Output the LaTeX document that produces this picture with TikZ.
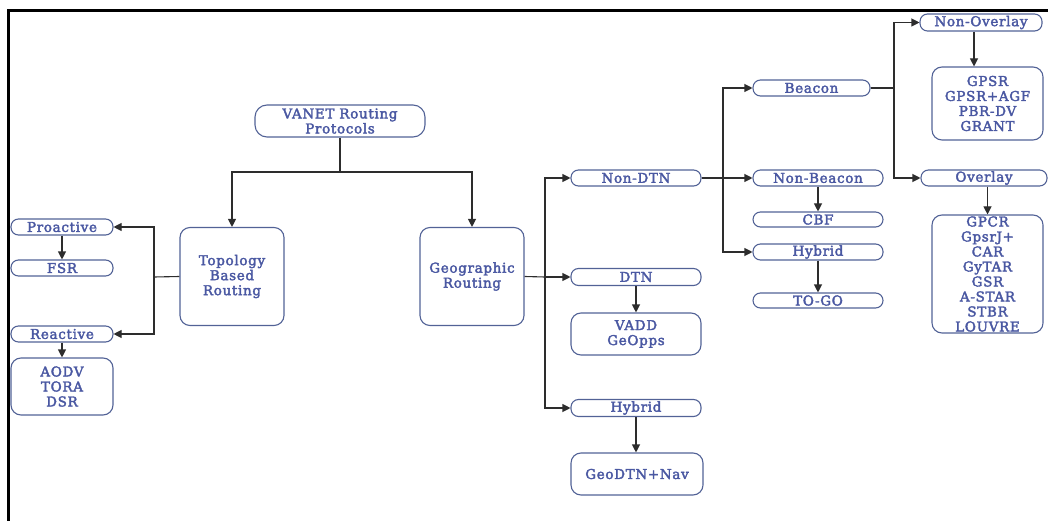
\documentclass[tikz,border=0pt]{standalone}
\usepackage{fontspec}
\setmainfont{DejaVu Serif}[LetterSpace=5,FakeBold=2.5]
\usetikzlibrary{arrows.meta}
\definecolor{txtc}{RGB}{74,88,162}
\definecolor{bordc}{RGB}{82,98,150}
\definecolor{linec}{RGB}{45,45,45}
\begin{document}
\begin{tikzpicture}[x=1pt,y=-1pt,
  every node/.style={inner sep=0pt, text=txtc, align=center, font=\fontsize{13.5}{15}\selectfont},
  pill/.style={draw=bordc, line width=1.1pt, rounded corners=7.5pt},
  rbox/.style={draw=bordc, line width=1.1pt, rounded corners=10pt},
  conn/.style={draw=linec, line width=1.1pt},
  arr/.style={conn, -{Triangle[length=8pt,width=8pt]}}
]
\useasboundingbox (0,0) rectangle (1048,521);
\draw[line width=3pt] (1048,11) -- (8,11) -- (8,521);

\node[rbox, rounded corners=12pt, minimum width=170pt, minimum height=32pt] (vanet) at (340,121) {VANET Routing\\Protocols};
\node[rbox, minimum width=104pt, minimum height=98pt] (topo) at (232,276.5) {Topology\\Based\\Routing};
\node[rbox, minimum width=104pt, minimum height=98pt] (geo) at (472,276.5) {Geographic\\Routing};

\node[pill, minimum width=102pt, minimum height=16pt] (pro) at (62,227) {Proactive};
\node[pill, minimum width=102pt, minimum height=16pt] (fsr) at (62,268) {FSR};
\node[pill, minimum width=102pt, minimum height=16pt] (rea) at (62,334) {Reactive};
\node[rbox, minimum width=102pt, minimum height=57pt] (aodv) at (62,386.5) {AODV\\TORA\\DSR};

\node[pill, minimum width=130pt, minimum height=16pt] (nondtn) at (636,178) {Non-DTN};
\node[pill, minimum width=130pt, minimum height=17pt] (dtn) at (636,277) {DTN};
\node[rbox, minimum width=130pt, minimum height=42pt] (vadd) at (636,334) {VADD\\GeOpps};
\node[pill, minimum width=130pt, minimum height=17pt] (hyb1) at (636,408) {Hybrid};
\node[rbox, minimum width=132pt, minimum height=42pt] (geodtn) at (637,474) {GeoDTN+Nav};

\node[pill, minimum width=117pt, minimum height=16pt] (beacon) at (811.5,88) {Beacon};
\node[pill, minimum width=130pt, minimum height=16pt] (nonbeacon) at (818,178) {Non-Beacon};
\node[pill, minimum width=130pt, minimum height=15pt] (cbf) at (818,219.5) {CBF};
\node[pill, minimum width=130pt, minimum height=16pt] (hyb2) at (818,252) {Hybrid};
\node[pill, minimum width=130pt, minimum height=15pt] (togo) at (818,300.5) {TO-GO};

\node[pill, minimum width=122pt, minimum height=17pt] (nonov) at (981,22.5) {Non-Overlay};
\node[rbox, minimum width=111pt, minimum height=73pt] (gpsr) at (987.5,103.5) {GPSR\\GPSR+AGF\\PBR-DV\\GRANT};
\node[pill, minimum width=126pt, minimum height=16pt] (overlay) at (984,178) {Overlay};
\node[rbox, minimum width=111pt, minimum height=118pt] (gpcr) at (987.5,274) {GPCR\\GpsrJ+\\CAR\\GyTAR\\GSR\\A-STAR\\STBR\\LOUVRE};

\coordinate (j0) at (340,172);
\draw[conn] (vanet.south) -- (j0);
\draw[arr] (j0) -| (topo.north);
\draw[arr] (j0) -| (geo.north);

\coordinate (j1) at (154,277);
\draw[conn] (topo.west) -- (j1);
\draw[arr] (j1) |- (pro.east);
\draw[arr] (j1) |- (rea.east);
\draw[arr] (pro.south) -- (fsr.north);
\draw[arr] (rea.south) -- (aodv.north);

\coordinate (j2) at (545,277);
\draw[conn] (geo.east) -- (j2);
\draw[arr] (j2) |- (nondtn.west);
\draw[arr] (j2) -- (dtn.west);
\draw[arr] (j2) |- (hyb1.west);
\draw[arr] (dtn.south) -- (vadd.north);
\draw[arr] (hyb1.south) -- (hyb1.south |- geodtn.north);

\coordinate (j3) at (723,178);
\draw[arr] (nondtn.east) -- (nonbeacon.west);
\draw[arr] (j3) |- (beacon.west);
\draw[arr] (j3) |- (hyb2.west);
\draw[arr] (nonbeacon.south) -- (cbf.north);
\draw[arr] (hyb2.south) -- (togo.north);

\coordinate (j4) at (894,88);
\draw[conn] (beacon.east) -- (j4);
\draw[arr] (j4) |- (nonov.west);
\draw[arr] (j4) |- (overlay.west);
\draw[arr] ([xshift=-7pt]nonov.south) -- ([xshift=-7pt]nonov.south |- gpsr.north);
\draw[arr] (gpcr.north |- overlay.south) -- (gpcr.north);
\end{tikzpicture}
\end{document}
